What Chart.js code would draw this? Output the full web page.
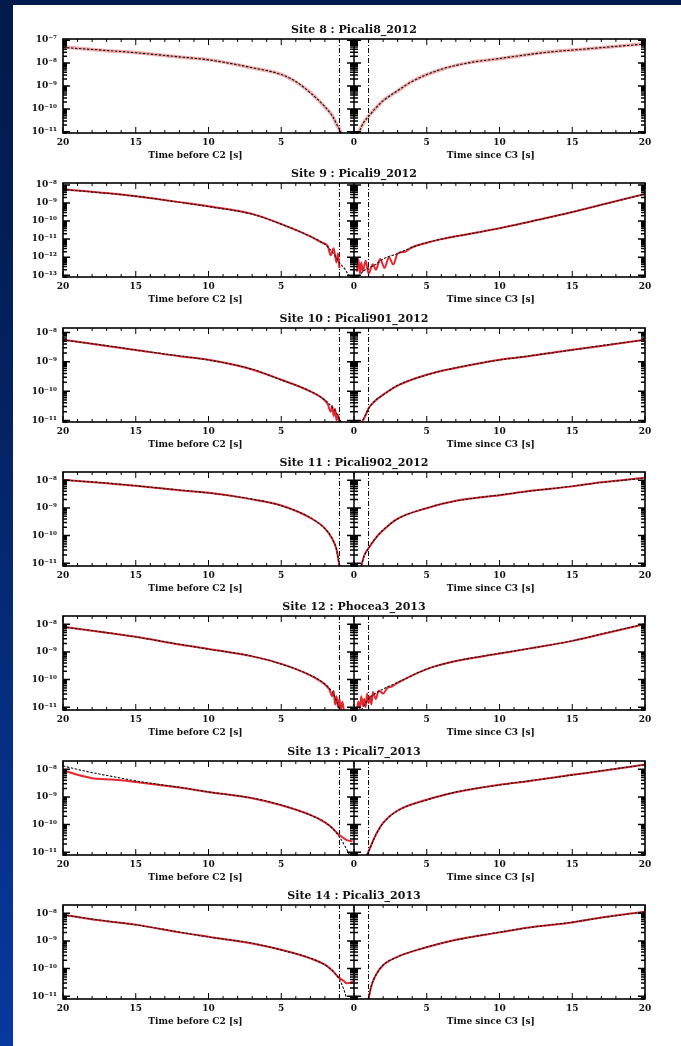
<!DOCTYPE html>
<html>
<head>
<meta charset="utf-8">
<script src="https://cdn.jsdelivr.net/npm/chart.js@4.4.1/dist/chart.umd.min.js"></script>
<style>
  body {
    margin: 0;
    width: 681px;
    height: 1046px;
    overflow: hidden;
    background: linear-gradient(to bottom, #021a4c 0%, #03215e 35%, #0839a0 100%);
    position: relative;
  }
  #sheet { position: absolute; left: 13px; top: 5px; right: 0; bottom: 0; background: #fff; }
  canvas.panel { position: absolute; left: 0; }
</style>
</head>
<body>
<div id="sheet"></div>
<script>
// panel titles and axis text
const titles = [
  "Site 8 : Picali8_2012",
  "Site 9 : Picali9_2012",
  "Site 10 : Picali901_2012",
  "Site 11 : Picali902_2012",
  "Site 12 : Phocea3_2013",
  "Site 13 : Picali7_2013",
  "Site 14 : Picali3_2013",
];
const xTitleLeft = "Time before C2 [s]";
const xTitleRight = "Time since C3 [s]";
const xTicks = [-20, -15, -10, -5, 0, 5, 10, 15, 20];
const contactLines = [-1, 1];

// y axes: exponents of the labelled decades, and the [min, max] exponent shown
const site8YTicks = [-7, -8, -9, -10, -11];
const site8YRange = [-11.05, -6.95];
const site9YTicks = [-8, -9, -10, -11, -12, -13];
const site9YRange = [-13.1, -7.89];
const site10YTicks = [-8, -9, -10, -11];
const site10YRange = [-11.05, -7.85];
const site11YTicks = [-8, -9, -10, -11];
const site11YRange = [-11.1, -7.7];
const site12YTicks = [-8, -9, -10, -11];
const site12YRange = [-11.1, -7.7];
const site13YTicks = [-8, -9, -10, -11];
const site13YRange = [-11.1, -7.7];
const site14YTicks = [-8, -9, -10, -11];
const site14YRange = [-11.1, -7.7];

// series: [time (s), log10 of signal]
const site8ObsLeft = [[-20,-7.3],[-17,-7.46],[-15,-7.54],[-12,-7.74],[-10,-7.85],[-7,-8.21],[-5,-8.49],[-4,-8.82],[-3,-9.28],[-2,-9.92],[-1.5,-10.28],[-1.2,-10.68],[-1,-10.88],[-0.85,-11.1]];
const site8ObsRight = [[0.3,-11.1],[0.5,-10.78],[0.7,-10.57],[1,-10.31],[1.5,-9.97],[2,-9.63],[3,-9.22],[4,-8.79],[6,-8.28],[8,-7.97],[10,-7.81],[13,-7.54],[16,-7.39],[20,-7.16]];
const site8ModelLeft = [[-20,-7.32],[-17,-7.45],[-15,-7.55],[-12,-7.73],[-10,-7.86],[-7,-8.2],[-5,-8.5],[-4,-8.8],[-3,-9.3],[-2,-9.9],[-1.5,-10.3],[-1.2,-10.65],[-1,-10.9],[-0.85,-11.1]];
const site8ModelRight = [[0.3,-11.1],[0.5,-10.8],[0.7,-10.55],[1,-10.33],[1.5,-9.95],[2,-9.65],[3,-9.2],[4,-8.8],[6,-8.27],[8,-7.98],[10,-7.8],[13,-7.55],[16,-7.38],[20,-7.17]];

const site9ObsLeft = [[-20,-8.23],[-17,-8.45],[-15,-8.63],[-12,-8.95],[-10,-9.18],[-7,-9.6],[-5,-10.17],[-3,-10.85],[-2.2,-11.2],[-1.8,-11.4],[-1.6,-11.9],[-1.4,-11.5],[-1.2,-12.3],[-1.1,-11.8],[-1,-12.6]];
const site9ObsRight = [[0.2,-12.8],[0.3,-12.1],[0.4,-12.9],[0.5,-12.3],[0.6,-12.8],[0.8,-12.2],[1,-12.9],[1.3,-12.4],[1.5,-12.7],[1.8,-12.1],[2.1,-12.6],[2.4,-12.0],[2.7,-12.4],[3,-11.8],[3.5,-11.7],[4,-11.45],[5,-11.2],[6,-11.0],[8,-10.7],[10,-10.4],[12,-10.05],[15,-9.5],[17,-9.1],[20,-8.5]];
const site9ModelLeft = [[-20,-8.25],[-17,-8.46],[-15,-8.62],[-12,-8.96],[-10,-9.2],[-7,-9.62],[-5,-10.17],[-3,-10.85],[-2,-11.3],[-1.5,-11.7],[-1,-12.3],[-0.6,-12.7],[-0.3,-13.1]];
const site9ModelRight = [[0.3,-13.1],[0.6,-12.8],[1,-12.6],[1.5,-12.4],[2,-12.1],[3,-11.8],[4,-11.45],[5,-11.2],[6,-11.0],[8,-10.7],[10,-10.4],[12,-10.05],[15,-9.5],[17,-9.1],[20,-8.5]];

const site10ObsLeft = [[-20,-8.25],[-17,-8.46],[-15,-8.6],[-12,-8.81],[-10,-8.93],[-7,-9.26],[-5,-9.61],[-3,-10.01],[-2,-10.32],[-1.8,-10.45],[-1.6,-10.7],[-1.5,-10.5],[-1.4,-10.85],[-1.3,-10.6],[-1.2,-11.0],[-1.1,-10.8],[-1,-11.1]];
const site10ObsRight = [[0.5,-11.1],[0.8,-10.82],[1,-10.58],[1.5,-10.31],[2,-10.12],[3,-9.81],[5,-9.44],[7,-9.21],[10,-8.93],[12,-8.81],[15,-8.59],[17,-8.46],[20,-8.25]];
const site10ModelLeft = [[-20,-8.26],[-17,-8.45],[-15,-8.6],[-12,-8.8],[-10,-8.94],[-7,-9.25],[-5,-9.62],[-3,-10.0],[-2,-10.3],[-1.5,-10.55],[-1.2,-10.75],[-1,-10.95],[-0.8,-11.1]];
const site10ModelRight = [[0.5,-11.1],[0.8,-10.8],[1,-10.6],[1.5,-10.3],[2,-10.13],[3,-9.8],[5,-9.45],[7,-9.2],[10,-8.94],[12,-8.8],[15,-8.6],[17,-8.45],[20,-8.26]];

const site11ObsLeft = [[-20,-7.98],[-17,-8.11],[-15,-8.2],[-12,-8.36],[-10,-8.45],[-7,-8.69],[-5,-8.91],[-3,-9.36],[-2,-9.74],[-1.5,-10.12],[-1.2,-10.5],[-1,-11.1]];
const site11ObsRight = [[0.5,-11.1],[0.7,-10.72],[1,-10.46],[1.5,-10.08],[2,-9.81],[3,-9.39],[5,-9.01],[7,-8.74],[10,-8.54],[12,-8.39],[15,-8.22],[17,-8.07],[20,-7.91]];
const site11ModelLeft = [[-20,-7.99],[-17,-8.1],[-15,-8.2],[-12,-8.35],[-10,-8.46],[-7,-8.68],[-5,-8.92],[-3,-9.35],[-2,-9.75],[-1.5,-10.1],[-1.2,-10.5],[-1,-11.1]];
const site11ModelRight = [[0.5,-11.1],[0.7,-10.74],[1,-10.45],[1.5,-10.09],[2,-9.8],[3,-9.4],[5,-9.0],[7,-8.75],[10,-8.53],[12,-8.4],[15,-8.21],[17,-8.08],[20,-7.92]];

const site12ObsLeft = [[-20,-8.09],[-17,-8.31],[-15,-8.45],[-12,-8.73],[-10,-8.89],[-7,-9.16],[-5,-9.43],[-3,-9.85],[-2,-10.18],[-1.7,-10.35],[-1.5,-10.6],[-1.4,-10.4],[-1.3,-10.9],[-1.2,-10.6],[-1.1,-11.0],[-1,-10.7],[-0.9,-11.1],[-0.8,-10.8],[-0.7,-11.1]];
const site12ObsRight = [[0.2,-11.1],[0.3,-10.8],[0.4,-11.05],[0.5,-10.6],[0.6,-10.95],[0.7,-10.7],[0.8,-11.0],[0.9,-10.5],[1,-10.85],[1.1,-10.6],[1.2,-10.9],[1.3,-10.45],[1.5,-10.7],[1.7,-10.4],[2,-10.5],[2.3,-10.3],[2.6,-10.25],[3,-10.12],[5,-9.62],[7,-9.33],[10,-9.06],[12,-8.88],[15,-8.6],[17,-8.36],[20,-7.99]];
const site12ModelLeft = [[-20,-8.1],[-17,-8.3],[-15,-8.46],[-12,-8.72],[-10,-8.9],[-7,-9.15],[-5,-9.44],[-3,-9.84],[-2,-10.16],[-1.5,-10.45],[-1.2,-10.78],[-1,-11.1]];
const site12ModelRight = [[0.5,-11.1],[1,-10.7],[1.5,-10.49],[2,-10.34],[3,-10.1],[5,-9.62],[7,-9.33],[10,-9.05],[12,-8.88],[15,-8.6],[17,-8.35],[20,-7.99]];

const site13ObsLeft = [[-20,-8.03],[-19,-8.2],[-18,-8.32],[-17,-8.36],[-16,-8.4],[-15,-8.46],[-12,-8.66],[-10,-8.82],[-7,-9.05],[-5,-9.3],[-3,-9.65],[-2,-9.92],[-1.5,-10.12],[-1,-10.38],[-0.5,-10.56],[-0.1,-10.6]];
const site13ObsRight = [[0.9,-11.1],[1.2,-10.72],[1.5,-10.37],[2,-9.94],[3,-9.49],[5,-9.1],[7,-8.83],[10,-8.56],[12,-8.43],[15,-8.2],[17,-8.06],[20,-7.83]];
const site13ModelLeft = [[-20,-7.88],[-18,-8.12],[-16,-8.32],[-15,-8.42],[-12,-8.65],[-10,-8.82],[-7,-9.04],[-5,-9.29],[-3,-9.66],[-2,-9.91],[-1.5,-10.13],[-1,-10.45],[-0.6,-10.8],[-0.3,-11.1]];
const site13ModelRight = [[0.9,-11.1],[1.2,-10.74],[1.5,-10.38],[2,-9.95],[3,-9.5],[5,-9.11],[7,-8.82],[10,-8.57],[12,-8.42],[15,-8.21],[17,-8.05],[20,-7.84]];

const site14ObsLeft = [[-20,-8.05],[-17,-8.29],[-15,-8.41],[-12,-8.69],[-10,-8.85],[-7,-9.09],[-5,-9.32],[-3,-9.63],[-2,-9.86],[-1.5,-10.07],[-1,-10.34],[-0.7,-10.45],[-0.5,-10.53],[-0.2,-10.5],[-0.05,-10.45]];
const site14ObsRight = [[1.0,-11.1],[1.2,-10.62],[1.5,-10.23],[2,-9.88],[3,-9.57],[5,-9.23],[7,-8.96],[10,-8.69],[12,-8.51],[15,-8.33],[17,-8.15],[20,-7.94]];
const site14ModelLeft = [[-20,-8.06],[-17,-8.28],[-15,-8.42],[-12,-8.68],[-10,-8.86],[-7,-9.08],[-5,-9.33],[-3,-9.62],[-2,-9.87],[-1.5,-10.06],[-1,-10.4],[-0.7,-10.75],[-0.5,-11.1]];
const site14ModelRight = [[1.0,-11.1],[1.2,-10.6],[1.5,-10.24],[2,-9.87],[3,-9.58],[5,-9.22],[7,-8.97],[10,-8.68],[12,-8.52],[15,-8.32],[17,-8.16],[20,-7.95]];

const panels = [
  { yTicks: site8YTicks, yRange: site8YRange, obs: [site8ObsLeft, site8ObsRight], model: [site8ModelLeft, site8ModelRight] },
  { yTicks: site9YTicks, yRange: site9YRange, obs: [site9ObsLeft, site9ObsRight], model: [site9ModelLeft, site9ModelRight] },
  { yTicks: site10YTicks, yRange: site10YRange, obs: [site10ObsLeft, site10ObsRight], model: [site10ModelLeft, site10ModelRight] },
  { yTicks: site11YTicks, yRange: site11YRange, obs: [site11ObsLeft, site11ObsRight], model: [site11ModelLeft, site11ModelRight] },
  { yTicks: site12YTicks, yRange: site12YRange, obs: [site12ObsLeft, site12ObsRight], model: [site12ModelLeft, site12ModelRight] },
  { yTicks: site13YTicks, yRange: site13YRange, obs: [site13ObsLeft, site13ObsRight], model: [site13ModelLeft, site13ModelRight] },
  { yTicks: site14YTicks, yRange: site14YRange, obs: [site14ObsLeft, site14ObsRight], model: [site14ModelLeft, site14ModelRight] },
];

const SUP = { "-": "\u207B", "0": "\u2070", "1": "\u00B9", "2": "\u00B2", "3": "\u00B3", "4": "\u2074", "5": "\u2075", "6": "\u2076", "7": "\u2077", "8": "\u2078", "9": "\u2079" };
const powerLabel = (e) => "10" + String(e).split("").map((c) => SUP[c]).join("");
const toPoints = (arr) => arr.map(([t, e]) => ({ x: t, y: Math.pow(10, e) }));

const serif = '"DejaVu Serif", "Liberation Serif", serif';

// box, inside ticks, centre axis, titles
const framePlugin = {
  id: "frame",
  afterDraw(chart, args, opts) {
    const { ctx, chartArea: a } = chart;
    const x = chart.scales.x;
    const y = chart.scales.y;
    ctx.save();
    ctx.strokeStyle = "#000";
    ctx.lineWidth = 1.6;
    ctx.strokeRect(a.left, a.top, a.right - a.left, a.bottom - a.top);

    ctx.lineWidth = 1;
    ctx.beginPath();
    for (let t = -20; t <= 20; t++) {
      const px = x.getPixelForValue(t);
      const len = t % 5 === 0 ? 6 : 3;
      ctx.moveTo(px, a.top);
      ctx.lineTo(px, a.top + len);
      ctx.moveTo(px, a.bottom);
      ctx.lineTo(px, a.bottom - len);
    }
    ctx.stroke();

    const x0 = x.getPixelForValue(0);
    ctx.lineWidth = 1.5;
    ctx.beginPath();
    ctx.moveTo(x0, a.top);
    ctx.lineTo(x0, a.bottom);
    const lo = Math.floor(opts.range[0]);
    const hi = Math.ceil(opts.range[1]);
    for (let e = lo; e <= hi; e++) {
      for (let m = 1; m < 10; m++) {
        const v = m * Math.pow(10, e);
        if (v < y.min || v > y.max) continue;
        const py = y.getPixelForValue(v);
        const len = m === 1 ? 7 : 4;
        ctx.moveTo(a.left, py);
        ctx.lineTo(a.left + len, py);
        ctx.moveTo(a.right, py);
        ctx.lineTo(a.right - len, py);
        ctx.moveTo(x0 - len, py);
        ctx.lineTo(x0 + len, py);
      }
    }
    ctx.stroke();

    ctx.fillStyle = "#111";
    ctx.textAlign = "center";
    ctx.textBaseline = "middle";
    ctx.font = "bold 11px " + serif;
    ctx.fillText(opts.title, (a.left + a.right) / 2, 10);
    ctx.font = "bold 9px " + serif;
    ctx.fillText(xTitleLeft, x.getPixelForValue(-10.9), a.bottom + 23);
    ctx.fillText(xTitleRight, x.getPixelForValue(9.4), a.bottom + 23);
    ctx.restore();
  },
};

panels.forEach((p, i) => {
  const canvas = document.createElement("canvas");
  canvas.className = "panel";
  canvas.width = 681;
  canvas.height = 144;
  canvas.style.top = Math.round(20 + i * 144.3) + "px";
  document.body.appendChild(canvas);

  const yMin = Math.pow(10, p.yRange[0]);
  const yMax = Math.pow(10, p.yRange[1]);
  const obsColor = i === 0 ? "rgba(225, 50, 50, 0.4)" : "rgba(228, 16, 24, 0.9)";
  const obsWidth = i === 0 ? 3.5 : 2;

  // first datasets are drawn on top in Chart.js, so the model goes first
  const datasets = [];
  p.model.forEach((arr) => {
    datasets.push({
      data: toPoints(arr),
      borderColor: "#111",
      borderWidth: 1.1,
      borderDash: [2.5, 1.5],
      pointRadius: 0,
      cubicInterpolationMode: "monotone",
    });
  });
  p.obs.forEach((arr) => {
    datasets.push({
      data: toPoints(arr),
      borderColor: obsColor,
      borderWidth: obsWidth,
      pointRadius: 0,
      cubicInterpolationMode: "monotone",
    });
  });
  contactLines.forEach((t) => {
    datasets.push({
      data: [{ x: t, y: yMin }, { x: t, y: yMax }],
      borderColor: "#000",
      borderWidth: 1,
      borderDash: [5, 2, 1, 2],
      pointRadius: 0,
    });
  });

  new Chart(canvas, {
    type: "line",
    data: { datasets: datasets },
    options: {
      responsive: false,
      animation: false,
      layout: { padding: { top: 19, right: 36, left: 0, bottom: 0 } },
      scales: {
        x: {
          type: "linear",
          min: -20,
          max: 20,
          afterBuildTicks: (scale) => {
            scale.ticks = xTicks.map((v) => ({ value: v }));
          },
          afterFit: (scale) => {
            scale.height = 31;
          },
          grid: { display: false, drawTicks: false, tickLength: 0 },
          border: { display: false },
          ticks: {
            color: "#111",
            padding: 4,
            maxRotation: 0,
            font: { family: serif, size: 9, weight: "bold" },
            callback: (v) => Math.abs(v),
          },
        },
        y: {
          type: "logarithmic",
          min: yMin,
          max: yMax,
          afterBuildTicks: (scale) => {
            scale.ticks = p.yTicks.map((e) => ({ value: Math.pow(10, e) }));
          },
          afterFit: (scale) => {
            scale.width = 63;
          },
          grid: { display: false, drawTicks: false, tickLength: 0 },
          border: { display: false },
          ticks: {
            color: "#111",
            padding: 6,
            font: { family: serif, size: 9, weight: "bold" },
            callback: (v) => powerLabel(Math.round(Math.log10(v))),
          },
        },
      },
      plugins: {
        legend: { display: false },
        tooltip: { enabled: false },
        frame: { title: titles[i], range: p.yRange },
      },
    },
    plugins: [framePlugin],
  });
});
</script>
</body>
</html>
